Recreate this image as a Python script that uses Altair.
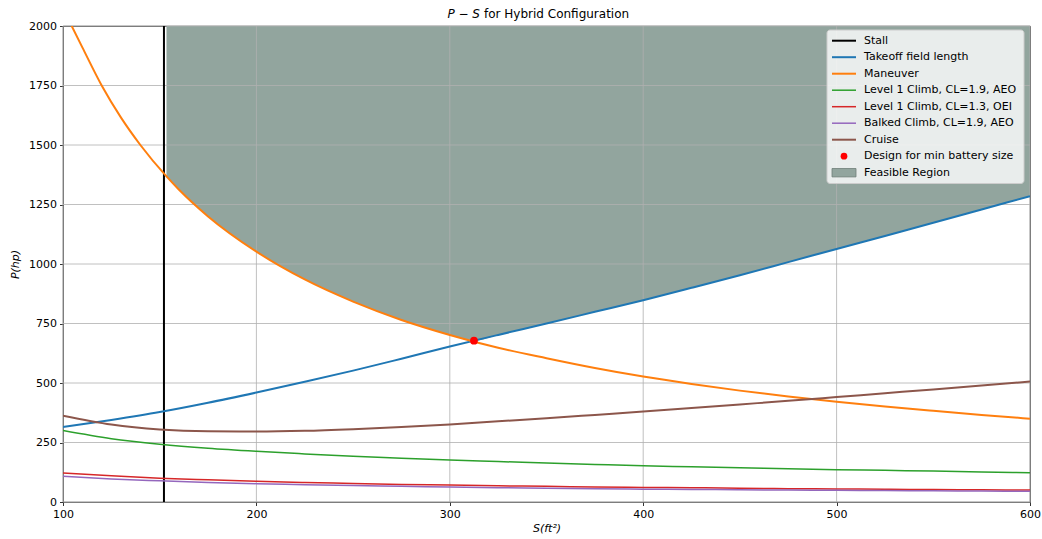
import altair as alt
import pandas as pd

# ---- data (wing area S in ft^2, power P in hp) ----
S_GRID = [100, 125, 150, 175, 200, 225, 250, 275, 300, 325, 350,
          375, 400, 425, 450, 475, 500, 525, 550, 575, 600]

P_TAKEOFF = [315, 345, 378, 417, 460, 505, 552, 602, 653, 702, 750,
             799, 848, 900, 953, 1008, 1063, 1118, 1173, 1229, 1285]
P_CLIMB_AEO = [300, 266, 243, 226, 213, 202, 192, 184, 176, 170, 164,
               158, 152, 148, 144, 140, 136, 133, 130, 126, 123]
P_CLIMB_OEI = [122, 110, 100, 93, 87, 82, 78, 74, 71, 68, 66,
               63, 61, 60, 58, 56, 55, 54, 52, 51, 50]
P_BALKED = [108, 97, 89, 82, 77, 73, 69, 66, 63, 60, 58,
            56, 54, 53, 51, 50, 49, 48, 47, 46, 45]
P_CRUISE = [363, 326, 305, 297, 296, 299, 306, 315, 326, 339, 352,
            366, 380, 395, 410, 425, 441, 457, 473, 490, 506]

S_MANEUVER = [104.5, 110, 120, 130, 140, 153.5, 160, 175, 200, 225, 250,
              275, 300, 325, 350, 375, 400, 425, 450, 475, 500, 525,
              550, 575, 600]
P_MANEUVER = [2000, 1910, 1750, 1615, 1500, 1368, 1312, 1200, 1052, 935, 842,
              765, 702, 648, 604, 563, 527, 496, 468, 443, 421, 401,
              383, 366, 350]

S_STALL = 152.2
DESIGN_S, DESIGN_P = 312.5, 678
P_CEILING = 2000
S_FEASIBLE_START = 153.5

X_TICKS = [100, 200, 300, 400, 500, 600]
Y_TICKS = [0, 250, 500, 750, 1000, 1250, 1500, 1750, 2000]

SERIES = [
    ("Takeoff field length", S_GRID, P_TAKEOFF, "#1f77b4", 2.0),
    ("Maneuver", S_MANEUVER, P_MANEUVER, "#ff7f0e", 2.0),
    ("Level 1 Climb, CL=1.9, AEO", S_GRID, P_CLIMB_AEO, "#2ca02c", 1.5),
    ("Level 1 Climb, CL=1.3, OEI", S_GRID, P_CLIMB_OEI, "#d62728", 1.5),
    ("Balked Climb, CL=1.9, AEO", S_GRID, P_BALKED, "#9467bd", 1.5),
    ("Cruise", S_GRID, P_CRUISE, "#8c564b", 2.0),
]

FEASIBLE_COLOR = "#92a59e"
W, H = 967, 476

# ---- feasible region: above maneuver until the design point, then above takeoff ----
feas_rows = [(s, p) for s, p in zip(S_MANEUVER, P_MANEUVER)
             if S_FEASIBLE_START <= s < DESIGN_S]
feas_rows.append((DESIGN_S, DESIGN_P))
feas_rows += [(s, p) for s, p in zip(S_GRID, P_TAKEOFF) if s > DESIGN_S]
feasible = pd.DataFrame(feas_rows, columns=["S", "P"])
feasible["P2"] = P_CEILING

x_scale = alt.Scale(domain=[100, 600], nice=False, zero=False)
y_scale = alt.Scale(domain=[0, 2000], nice=False)
x_axis = alt.Axis(values=X_TICKS, title="S(ft²)", format="d", labelFlush=False)
y_axis = alt.Axis(values=Y_TICKS, title="P(hp)", format="d", titlePadding=8, labelFlush=False)


def X(field="S"):
    return alt.X(f"{field}:Q", scale=x_scale, axis=x_axis)


def Y(field="P"):
    return alt.Y(f"{field}:Q", scale=y_scale, axis=y_axis)


one = alt.Data(values=[{}])

layers = []

# feasible region
layers.append(
    alt.Chart(feasible).mark_area(color=FEASIBLE_COLOR, interpolate="monotone", opacity=1)
    .encode(x=X(), y=Y(), y2="P2:Q")
)

# grid lines (above the fill, below the curves)
layers.append(
    alt.Chart(pd.DataFrame({"S": X_TICKS})).mark_rule(color="#b0b0b0", strokeWidth=0.8)
    .encode(x=X())
)
layers.append(
    alt.Chart(pd.DataFrame({"P": Y_TICKS})).mark_rule(color="#b0b0b0", strokeWidth=0.8)
    .encode(y=Y())
)

# stall limit
layers.append(
    alt.Chart(pd.DataFrame({"S": [S_STALL]})).mark_rule(color="black", strokeWidth=2)
    .encode(x=X())
)

# constraint curves
for name, xs, ps, color, width in SERIES:
    df = pd.DataFrame({"S": xs, "P": ps, "name": name})
    layers.append(
        alt.Chart(df).mark_line(color=color, strokeWidth=width, interpolate="monotone", clip=True)
        .encode(x=X(), y=Y())
    )

# design point
layers.append(
    alt.Chart(pd.DataFrame({"S": [DESIGN_S], "P": [DESIGN_P]}))
    .mark_circle(color="red", size=60, opacity=1)
    .encode(x=X(), y=Y())
)

# ---- legend box ----
LEG_X0, LEG_X1, LEG_Y0, LEG_Y1 = 764, 961, 4, 157.5
layers.append(
    alt.Chart(one).mark_rect(fill="white", fillOpacity=0.8, stroke="#cccccc",
                             strokeWidth=1, cornerRadius=3)
    .encode(x=alt.value(LEG_X0), x2=alt.value(LEG_X1),
            y=alt.value(LEG_Y0), y2=alt.value(LEG_Y1))
)

legend_entries = [("Stall", "black", "line", 2.0)]
legend_entries += [(n, c, "line", w) for n, _, _, c, w in SERIES]
legend_entries += [("Design for min battery size", "red", "dot", 0),
                   ("Feasible Region", FEASIBLE_COLOR, "patch", 0)]

SYM_X0, SYM_X1, LABEL_X = 769, 793, 801
ROW0, ROW_STEP = 14.7, 16.5
for i, (label, color, kind, width) in enumerate(legend_entries):
    yc = ROW0 + ROW_STEP * i
    if kind == "line":
        sym = alt.Chart(one).mark_rule(color=color, strokeWidth=width).encode(
            x=alt.value(SYM_X0), x2=alt.value(SYM_X1), y=alt.value(yc))
    elif kind == "dot":
        sym = alt.Chart(one).mark_circle(color=color, size=45, opacity=1).encode(
            x=alt.value((SYM_X0 + SYM_X1) / 2), y=alt.value(yc))
    else:
        sym = alt.Chart(one).mark_rect(fill=color, stroke="#6f7f79", strokeWidth=0.8).encode(
            x=alt.value(SYM_X0), x2=alt.value(SYM_X1),
            y=alt.value(yc - 4.2), y2=alt.value(yc + 4.2))
    layers.append(sym)
    layers.append(
        alt.Chart(one).mark_text(text=label, align="left", baseline="middle",
                                 font="DejaVu Sans", fontSize=11, color="black")
        .encode(x=alt.value(LABEL_X), y=alt.value(yc))
    )

# ---- title: italic P − S followed by plain text ----
layers.append(
    alt.Chart(one).mark_text(text="P − S", align="right", baseline="middle",
                             font="DejaVu Sans", fontSize=12, fontStyle="italic", color="black")
    .encode(x=alt.value(417), y=alt.value(-12))
)
layers.append(
    alt.Chart(one).mark_text(text="for Hybrid Configuration", align="left", baseline="middle",
                             font="DejaVu Sans", fontSize=12, color="black")
    .encode(x=alt.value(421), y=alt.value(-12))
)

chart = (
    alt.layer(*layers)
    .properties(
        width=W, height=H,
        autosize=alt.AutoSizeParams(type="none"),
        padding={"left": 63, "top": 26, "right": 12, "bottom": 37},
        background="white",
    )
    .configure_view(stroke="black", strokeWidth=0.8)
    .configure_axis(
        grid=False, domain=False,
        labelFont="DejaVu Sans", labelFontSize=11, labelColor="black",
        tickColor="black", tickWidth=0.8, tickSize=3.5, labelPadding=3,
        titleFont="DejaVu Sans", titleFontSize=11, titleFontStyle="italic",
        titleFontWeight="normal", titleColor="black",
    )
    .configure_axisX(titlePadding=3)
)

chart.save("out.html", embed_options={"renderer": "svg", "actions": False})
